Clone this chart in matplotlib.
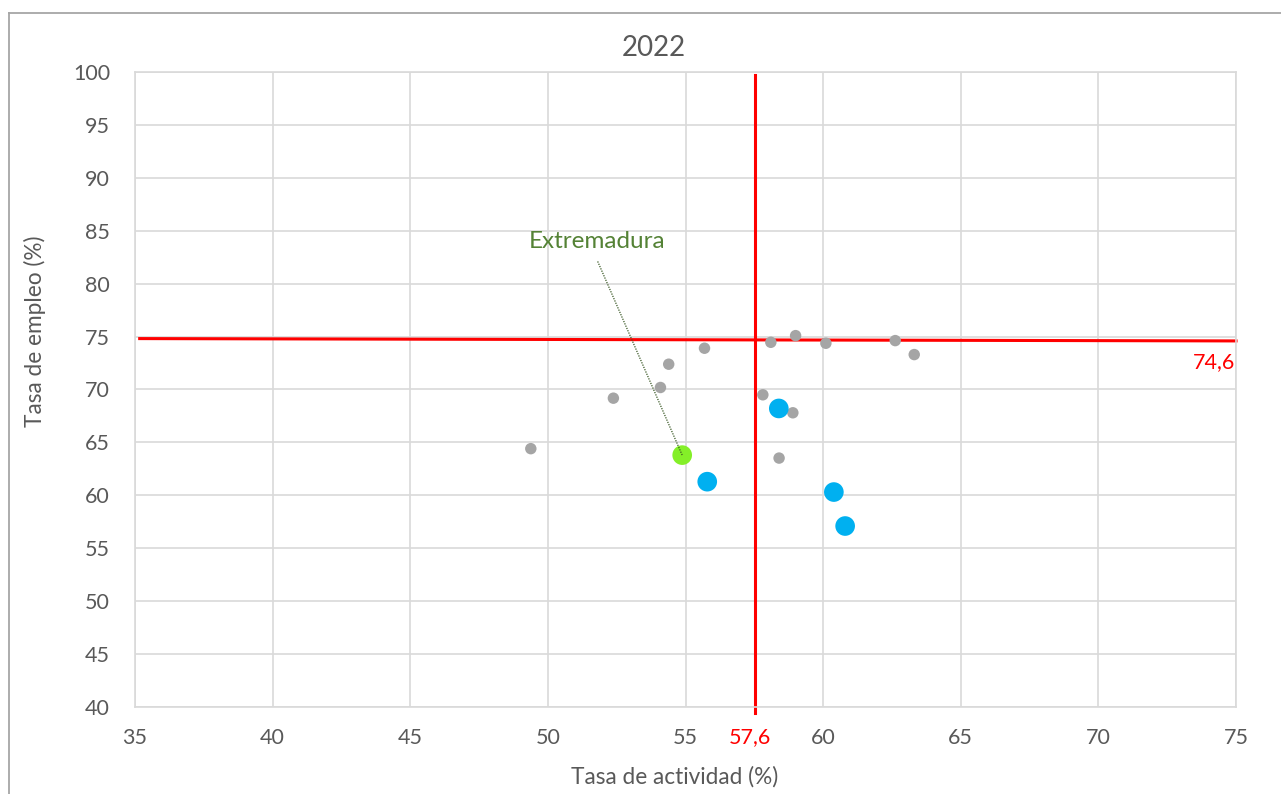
import matplotlib
matplotlib.use("Agg")
import matplotlib.pyplot as plt
from matplotlib.lines import Line2D

plt.rcParams['font.family'] = ['Lato', 'DejaVu Sans']

# --- data ---
otras_x = [49.38, 52.38, 54.09, 54.39, 55.69, 58.10, 59.00, 60.10, 62.62, 63.31, 57.81, 58.90, 58.40]
otras_y = [64.41, 69.18, 70.19, 72.39, 73.90, 74.46, 75.09, 74.37, 74.62, 73.30, 69.50, 67.80, 63.52]
dest_x = [58.39, 55.79, 60.39, 60.80]
dest_y = [68.21, 61.29, 60.31, 57.10]
extremadura_x = [54.88]
extremadura_y = [63.80]
media_actividad = 57.52
media_actividad_label = "57,6"
media_empleo_line_x = [35.17, 75.0]
media_empleo_line_y = [74.81, 74.59]
media_empleo_label = "74,6"
vline_y = [39.43, 99.7]
xticks = [35, 40, 45, 50, 55, 60, 65, 70, 75]
yticks = [40, 45, 50, 55, 60, 65, 70, 75, 80, 85, 90, 95, 100]
title = "2022"
xlabel = "Tasa de actividad (%)"
ylabel = "Tasa de empleo (%)"
label_name = "Extremadura"
label_pos = (51.79, 83.96)
leader_start = (51.81, 82.10)

W, H = 1281, 794
fig = plt.figure(figsize=(W / 100, H / 100), dpi=100)
ax = fig.add_axes([135 / W, 1 - 707 / H, (1236 - 135) / W, (707 - 72) / H])

ax.set_xlim(35, 75)
ax.set_ylim(40, 100)
ax.set_xticks(xticks)
ax.set_yticks(yticks)
ax.grid(True, color='#d9d9d9', lw=1.2, zorder=0)
ax.set_axisbelow(True)
for s in ax.spines.values():
    s.set_color('#d9d9d9')
    s.set_linewidth(1.2)
ax.tick_params(length=0, labelsize=15.5, labelcolor='#595959')
ax.tick_params(axis='x', pad=15)
ax.tick_params(axis='y', pad=18)

# reference lines
ax.plot([media_actividad, media_actividad], vline_y, color='#ff0000', lw=2.2, zorder=2, clip_on=False)
ax.plot(media_empleo_line_x, media_empleo_line_y, color='#ff0000', lw=2.2, zorder=2, clip_on=False)

# points
ax.scatter(otras_x, otras_y, s=68, color='#a5a5a5', edgecolors='none', zorder=3)
ax.scatter(dest_x, dest_y, s=200, color='#00b0f0', edgecolors='none', zorder=4)
ax.scatter(extremadura_x, extremadura_y, s=200, color='#84ef28', edgecolors='none', zorder=4)

# annotation
ax.plot([leader_start[0], extremadura_x[0]], [leader_start[1], extremadura_y[0]],
        color='#385723', lw=0.9, linestyle=(0, (1, 1)), zorder=5)
ax.text(label_pos[0], label_pos[1], label_name, color='#548235', fontsize=17.5,
        ha='center', va='center', zorder=5)

# reference labels
fig.text(750 / W, 1 - 737 / H, media_actividad_label, color='#ff0000', fontsize=15.5, ha='center', va='center')
fig.text(1235 / W, 1 - 362 / H, media_empleo_label, color='#ff0000', fontsize=15.5, ha='right', va='center')

# titles
fig.text(654 / W, 1 - 48 / H, title, color='#595959', fontsize=20, ha='center', va='center')
fig.text(675 / W, 1 - 777 / H, xlabel, color='#595959', fontsize=16.3, ha='center', va='center')
fig.text(35 / W, 1 - 331 / H, ylabel, color='#595959', fontsize=16.3, ha='center', va='center', rotation=90)

# outer chart border
fig.add_artist(Line2D([9 / W, 1.0], [1 - 13 / H, 1 - 13 / H], color='#a6a6a6', lw=1.3))
fig.add_artist(Line2D([9 / W, 9 / W], [0, 1 - 13 / H], color='#a6a6a6', lw=1.3))

fig.savefig("out.png", dpi=100)
